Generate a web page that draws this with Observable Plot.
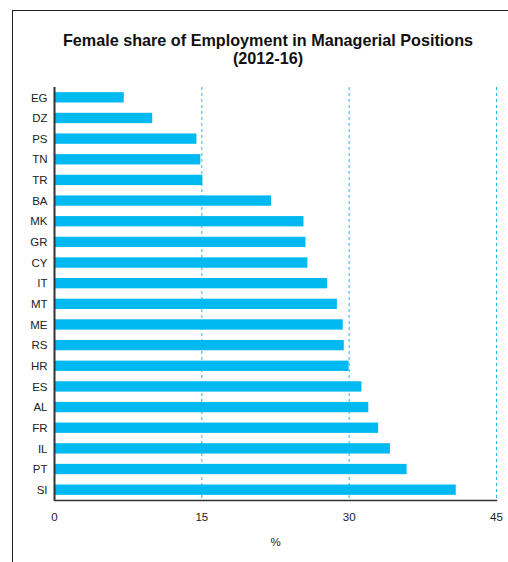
<!DOCTYPE html>
<html>
<head>
<meta charset="utf-8">
<script src="https://cdn.jsdelivr.net/npm/d3@7"></script>
<script src="https://cdn.jsdelivr.net/npm/@observablehq/plot@0.6"></script>
<style>
  html, body { margin: 0; padding: 0; background: #fff; width: 508px; height: 562px; overflow: hidden; }
  body { position: relative; font-family: "Liberation Sans", Arial, Helvetica, sans-serif; }
  #box { position: absolute; left: 12px; top: 10px; width: 600px; height: 600px; border-left: 1.5px solid #222; border-top: 1.5px solid #222; }
  #title { position: absolute; left: 12px; width: 512px; top: 31px; text-align: center; font-weight: bold; font-size: 16.2px; line-height: 18px; color: #111; }
  #chart { position: absolute; left: 0; top: 80px; }
</style>
</head>
<body>
<div id="box"></div>
<div id="title">Female share of Employment in Managerial Positions<br>(2012-16)</div>
<div id="chart"></div>
<script>
const countries = ["EG","DZ","PS","TN","TR","BA","MK","GR","CY","IT","MT","ME","RS","HR","ES","AL","FR","IL","PT","SI"];
const shares = [7.1, 10.0, 14.5, 14.9, 15.1, 22.1, 25.4, 25.6, 25.8, 27.8, 28.8, 29.4, 29.5, 30.0, 31.3, 32.0, 33.0, 34.2, 35.9, 40.9];
const xTicks = [0, 15, 30, 45];
const gridTicks = [15, 30, 45];

const data = countries.map((c, i) => ({country: c, value: shares[i]}));

const chart = Plot.plot({
  width: 508,
  height: 475,
  marginLeft: 54,
  marginRight: 12,
  marginTop: 7,
  marginBottom: 55,
  style: {fontFamily: "'Liberation Sans', Arial, Helvetica, sans-serif", fontSize: "11.5px", color: "#222", background: "transparent"},
  x: {domain: [0, 45]},
  y: {domain: countries, paddingInner: 0.5, paddingOuter: 0.25, round: false},
  marks: [
    Plot.gridX(gridTicks, {stroke: "#29b6e8", strokeOpacity: 1, strokeWidth: 1, strokeDasharray: "3,3"}),
    Plot.barX(data, {x: "value", y: "country", fill: "#00b9f1"}),
    Plot.axisX(xTicks, {tickSize: 0, tickPadding: 12, label: "%", labelArrow: false, labelAnchor: "center", labelOffset: 45, fontSize: 11.5}),
    Plot.axisY({tickSize: 0, tickPadding: 7, label: null, fontSize: 11.5}),
    Plot.ruleX([0], {stroke: "#333", strokeWidth: 2}),
    Plot.frame({anchor: "bottom", stroke: "#333", strokeWidth: 1.5})
  ]
});
document.getElementById("chart").appendChild(chart);
</script>
</body>
</html>
